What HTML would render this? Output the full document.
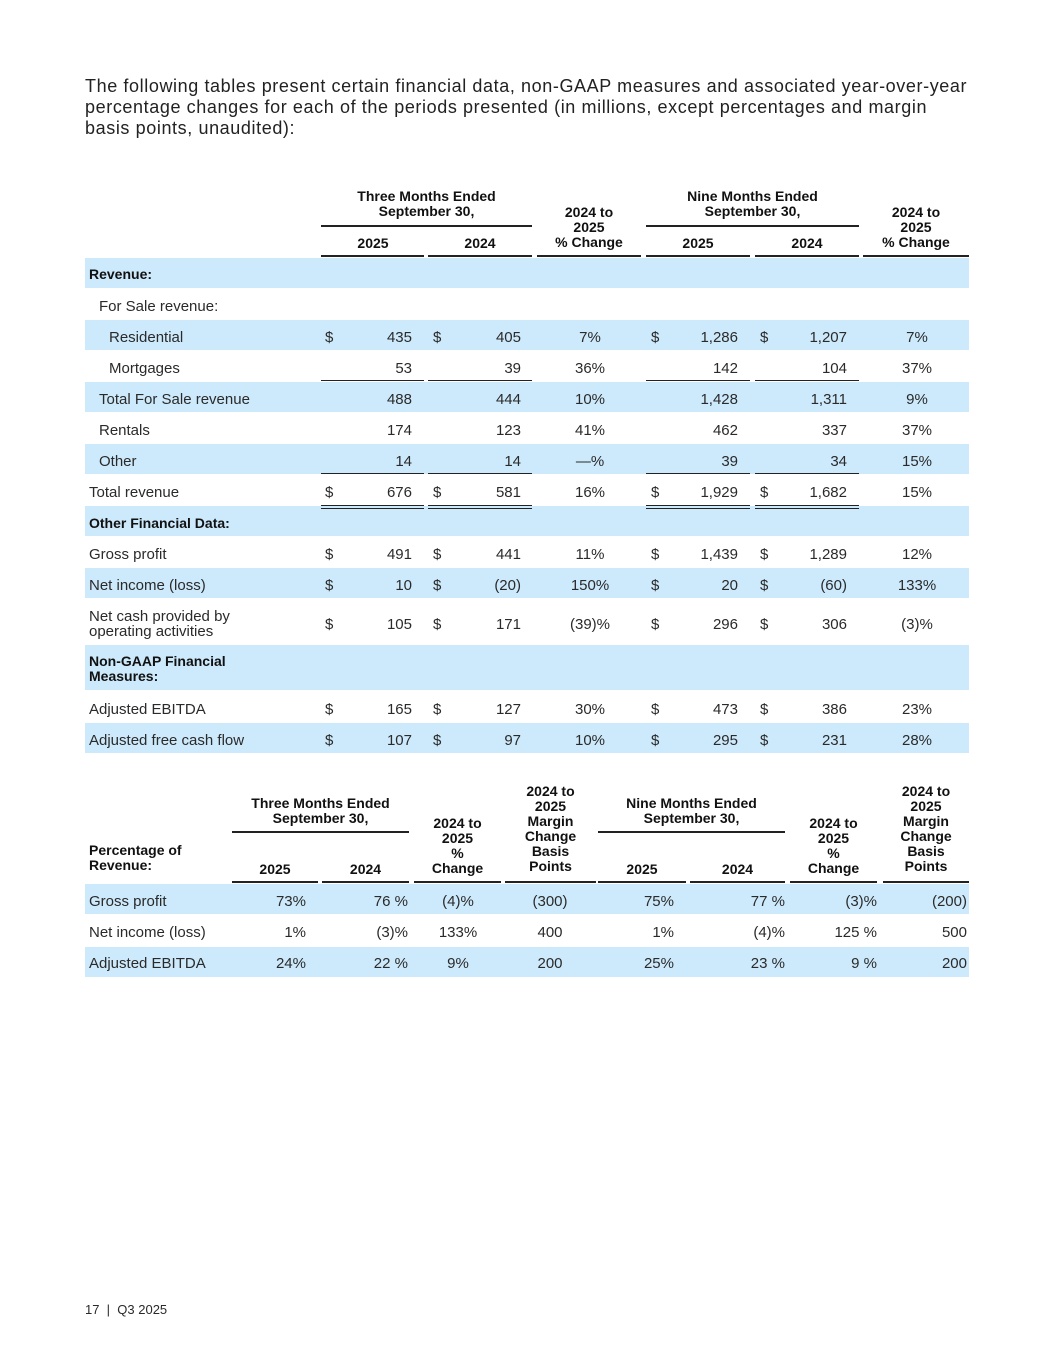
<!DOCTYPE html>
<html><head><meta charset="utf-8">
<style>
body{margin:0;background:#fff;}
#page{position:relative;width:1055px;height:1365px;font-family:"Liberation Sans",sans-serif;color:#2a2a2a;overflow:hidden;}
.a{position:absolute;white-space:nowrap;}
.t{font-size:15px;line-height:16px;}
.b{font-weight:bold;font-size:14px;line-height:15px;color:#111;}
.band{position:absolute;left:85px;width:884px;background:#cdeafc;}
.ln{position:absolute;height:2px;background:#222;}
</style></head><body>
<div id="page">
<div class="a" style="left:85px;top:76px;font-size:18px;line-height:21px;color:#222;letter-spacing:0.6px;">The following tables present certain financial data, non-GAAP measures and associated year-over-year<br>percentage changes for each of the periods presented (in millions, except percentages and margin<br>basis points, unaudited):</div>
<div class="a" style="left:85px;top:1302px;font-size:13px;">17 &nbsp;|&nbsp; Q3 2025</div>
</div>
<script>
const page=document.getElementById('page');
function mk(cls,style,text,name){const d=document.createElement('div');d.className=cls;d.style.cssText=style;if(text!==undefined)d.innerHTML=text;


page.appendChild(d);return d;}
const bands1=[[258,30],[320,30],[382,30],[444,30],[506,30],[568,30],[645,45],[723,30]];
bands1.forEach(b=>mk('band','top:'+b[0]+'px;height:'+b[1]+'px;','', 'row-shading'));
const bands2=[[884,30],[947,30]];
bands2.forEach(b=>mk('band','top:'+b[0]+'px;height:'+b[1]+'px;','', 'row-shading'));
function hdr(l,w,top,txt,name){mk('a b','left:'+l+'px;width:'+w+'px;top:'+top+'px;text-align:center;',txt,name);}
hdr(321,211,189,'Three Months Ended<br>September 30,','three-months-header');
hdr(646,213,189,'Nine Months Ended<br>September 30,','nine-months-header');
hdr(537,104,205,'2024 to<br>2025<br>% Change','change-header-3m');
hdr(863,106,205,'2024 to<br>2025<br>% Change','change-header-9m');
[[321,2025],[428,2024],[646,2025],[755,2024]].forEach(c=>hdr(c[0],104,236,c[1],'year-header'));
mk('ln','left:321px;width:211px;top:225px;','','group-rule');
mk('ln','left:646px;width:213px;top:225px;','','group-rule');
const cols1=[[321,103],[428,104],[537,104],[646,104],[755,104],[863,106]];
cols1.forEach(c=>mk('ln','left:'+c[0]+'px;width:'+c[1]+'px;top:255px;','','header-rule'));
const rows=[
['Revenue:',0,1,273,null],
['For Sale revenue:',10,0,305,null],
['Residential',20,0,336,['$','435','$','405','7%','$','1,286','$','1,207','7%']],
['Mortgages',20,0,367,['','53','','39','36%','','142','','104','37%']],
['Total For Sale revenue',10,0,398,['','488','','444','10%','','1,428','','1,311','9%']],
['Rentals',10,0,429,['','174','','123','41%','','462','','337','37%']],
['Other',10,0,460,['','14','','14','—%','','39','','34','15%']],
['Total revenue',0,0,491,['$','676','$','581','16%','$','1,929','$','1,682','15%']],
['Other Financial Data:',0,1,522,null],
['Gross profit',0,0,553,['$','491','$','441','11%','$','1,439','$','1,289','12%']],
['Net income (loss)',0,0,584,['$','10','$','(20)','150%','$','20','$','(60)','133%']],
['Net cash provided by<br>operating activities',0,0,623,['$','105','$','171','(39)%','$','296','$','306','(3)%']],
['Non-GAAP Financial<br>Measures:',0,1,668,null],
['Adjusted EBITDA',0,0,708,['$','165','$','127','30%','$','473','$','386','23%']],
['Adjusted free cash flow',0,0,739,['$','107','$','97','10%','$','295','$','231','28%']]
];
const dollarX=[325,433,651,760], rightX=[412,521,738,847], centerX=[590,917];
rows.forEach(r=>{
  const multi=r[0].includes('<br>');
  const top=multi?r[3]-14:r[3]-6;
  mk('a '+(r[2]?'b':'t'),'left:'+(89+r[1])+'px;top:'+top+'px;'+(multi&&!r[2]?'line-height:15px;':''),r[0],'row-label');
  if(!r[4])return;
  const v=r[4];const vt=r[3]-6;
  [[0,1,0],[2,3,1],[5,6,2],[7,8,3]].forEach(p=>{
    if(v[p[0]])mk('a t','left:'+dollarX[p[2]]+'px;top:'+vt+'px;',v[p[0]],'dollar-sign');
    mk('a t','left:'+(rightX[p[2]]-80)+'px;width:80px;text-align:right;top:'+vt+'px;',v[p[1]],'value-cell');
  });
  [[4,0],[9,1]].forEach(p=>mk('a t','left:'+(centerX[p[1]]-50)+'px;width:100px;text-align:center;top:'+vt+'px;',v[p[0]],'change-cell'));
});
[0,1,3,4].forEach(i=>{const c=cols1[i];
  mk('ln','left:'+c[0]+'px;width:'+c[1]+'px;top:380px;height:1px;','','subtotal-rule');
  mk('ln','left:'+c[0]+'px;width:'+c[1]+'px;top:473px;height:1px;','','subtotal-rule');
  mk('ln','left:'+c[0]+'px;width:'+c[1]+'px;top:505px;height:1px;','','total-rule');
  mk('ln','left:'+c[0]+'px;width:'+c[1]+'px;top:508px;height:1px;','','total-rule');
});
hdr(232,177,796,'Three Months Ended<br>September 30,','three-months-header-2');
hdr(598,187,796,'Nine Months Ended<br>September 30,','nine-months-header-2');
mk('ln','left:232px;width:177px;top:831px;','','group-rule');
mk('ln','left:598px;width:187px;top:831px;','','group-rule');
mk('a b','left:89px;top:843px;','Percentage of<br>Revenue:','percentage-of-revenue-header');
const cols2=[[232,86],[322,87],[414,87],[505,91],[598,88],[690,95],[790,87],[883,86]];
const hdr2=['2025','2024','2024 to<br>2025<br>%<br>Change','2024 to<br>2025<br>Margin<br>Change<br>Basis<br>Points','2025','2024','2024 to<br>2025<br>%<br>Change','2024 to<br>2025<br>Margin<br>Change<br>Basis<br>Points'];
const hdrTop=[862,862,816,784,862,862,816,784];
cols2.forEach((c,i)=>{hdr(c[0],c[1],hdrTop[i],hdr2[i],'column-header');
  mk('ln','left:'+c[0]+'px;width:'+c[1]+'px;top:881px;','','header-rule');});
const rows2=[
['Gross profit',900,['73%','76 %','(4)%','(300)','75%','77 %','(3)%','(200)']],
['Net income (loss)',931,['1%','(3)%','133%','400','1%','(4)%','125 %','500']],
['Adjusted EBITDA',962,['24%','22 %','9%','200','25%','23 %','9 %','200']]
];
const align2=['r','r','c','c','r','r','r','r'];
const rx2=[306,408,458,550,674,785,877,967];
rows2.forEach(r=>{
  mk('a t','left:89px;top:'+(r[1]-6)+'px;',r[0],'row-label');
  r[2].forEach((v,i)=>{
    if(align2[i]==='c')mk('a t','left:'+(rx2[i]-50)+'px;width:100px;text-align:center;top:'+(r[1]-6)+'px;',v,'value-cell');
    else mk('a t','left:'+(rx2[i]-90)+'px;width:90px;text-align:right;top:'+(r[1]-6)+'px;',v,'value-cell');
  });
});
</script>
</body></html>
